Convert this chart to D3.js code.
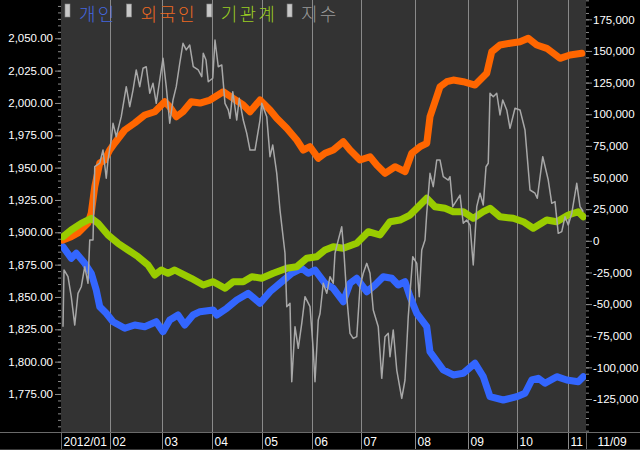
<!DOCTYPE html>
<html><head><meta charset="utf-8">
<script src="https://cdn.jsdelivr.net/npm/d3@7"></script>
<style>body{margin:0;background:#000;} svg{display:block}</style>
</head><body><svg id="c" width="640" height="450"></svg>
<script>
const seriesNames = ["개인", "외국인", "기관계", "지수"];
const monthStarts = [0, 19.6, 40.4, 60.4, 80.4, 100.4, 120, 141.6, 162.8, 182.4, 202.8];
const monthLabels = ["2012/01", "02", "03", "04", "05", "06", "07", "08", "09", "10", "11"];
const lastDateLabel = "11/09";
const leftTicks = [1775, 1800, 1825, 1850, 1875, 1900, 1925, 1950, 1975, 2000, 2025, 2050];
const rightTicks = [-125000, -100000, -75000, -50000, -25000, 0, 25000, 50000, 75000, 100000, 125000, 150000, 175000];

// [trading-day index, net buying] 개인
const individual = [[0.8,-4660],[4.1,-13830],[6.1,-9880],[9.5,-17780],[12.1,-25680],[14.1,-38870],[15.5,-52070],[18.1,-57280],[20.8,-63920],[25.5,-69130],[29.5,-66530],[33.5,-67870],[38.1,-63920],[40.8,-71820],[43.5,-62570],[46.8,-58620],[49.5,-66530],[52.8,-58620],[55.6,-56020],[60.9,-54670],[62.3,-58620],[66.3,-53330],[70.3,-46770],[74.9,-41480],[79.6,-49380],[83.6,-40210],[87.6,-33580],[92.3,-25680],[96.3,-21730],[98.9,-25680],[101.6,-23070],[105.6,-33580],[108.9,-37530],[112.9,-48110],[115.6,-33580],[118.3,-29630],[122.3,-40210],[125.6,-34920],[128.9,-28360],[132.3,-29630],[134.9,-34920],[137.6,-32310],[139.6,-44160],[142.3,-57280],[146.3,-67870],[147.6,-87610],[152.9,-102070],[156.9,-106020],[160.9,-104680],[165.6,-96780],[168.9,-107360],[171.6,-123160],[176.9,-125770],[182.3,-123160],[185.6,-120480],[188.3,-109970],[190.9,-108630],[193.6,-112580],[198.3,-107360],[202.3,-109970],[206.9,-111320],[208.9,-107360]];
// 외국인
const foreign = [[0.8,600],[4.1,3200],[6.8,6160],[10.8,14060],[12.1,21960],[13.5,42740],[15.5,61470],[17.5,63840],[19.5,71740],[21.5,77270],[25.5,87540],[29.5,93070],[33.5,99390],[37.5,102000],[41.5,109900],[43.5,105940],[46.1,98040],[48.8,102000],[52.1,109900],[55.6,108860],[59.6,111230],[64.9,117790],[68.9,112580],[72.9,107280],[75.6,102000],[79.6,111230],[83.6,103330],[86.3,96780],[90.3,88880],[94.3,79630],[96.9,71730],[99.6,74340],[102.9,65180],[105.6,69130],[108.9,71730],[112.9,78290],[115.6,71730],[119.6,63830],[123.6,66440],[126.3,59880],[129.6,53330],[133.6,58540],[137.6,54590],[140.3,69130],[143.6,74340],[146.3,77030],[147.6,98040],[150.3,113840],[151.6,121740],[154.3,125690],[156.9,127030],[160.9,125690],[165.6,123080],[170.3,132330],[172.3,149390],[175.6,154680],[179.6,156030],[183.6,157290],[186.9,159980],[190.3,154680],[194.3,152080],[199.6,144180],[203.6,146780],[208.3,148130]];
// 기관계
const institution = [[0.8,3240],[4.1,8530],[8.1,13830],[12.1,17780],[14.8,13830],[18.8,4580],[22.8,-1980],[26.8,-7270],[30.8,-12560],[34.8,-19120],[37.5,-27020],[40.1,-23070],[42.8,-25680],[45.5,-23070],[48.1,-25680],[52.1,-29630],[56.9,-34920],[60.9,-32310],[65.6,-37530],[68.9,-32310],[72.9,-32310],[76.3,-28360],[80.3,-29630],[84.9,-25680],[90.3,-21730],[94.3,-20460],[98.3,-13830],[102.3,-12560],[105.6,-7270],[108.9,-4660],[112.9,-5930],[118.3,-1980],[122.9,7190],[127.6,4580],[131.6,15090],[135.6,16430],[139.6,20380],[142.9,26940],[146.3,33580],[149.6,26940],[153.6,25680],[156.9,22990],[160.9,22990],[164.9,17780],[168.9,22990],[171.6,25680],[175.6,19040],[180.9,17780],[184.9,15090],[188.9,9880],[194.3,16430],[198.3,15090],[202.9,20380],[206.9,22990],[208.9,19040]];
// 지수 (KOSPI)
const kospi = [[0.8,1827.0],[1.2,1870.9],[2.8,1865.7],[4.1,1850.2],[5.5,1828.3],[6.8,1852.8],[8.1,1857.9],[9.5,1873.4],[10.8,1860.6],[11.5,1894.0],[12.8,1894.0],[13.5,1950.7],[15.5,1953.4],[16.8,1963.6],[18.1,1941.8],[18.8,1955.9],[20.1,1971.4],[20.8,1984.3],[22.1,1973.9],[24.1,1989.4],[26.1,2012.6],[27.5,1997.1],[28.8,2010.0],[30.1,2025.5],[31.5,2012.6],[32.8,2026.8],[34.1,2028.0],[35.5,2007.5],[36.8,2015.2],[38.1,1999.7],[39.5,2017.8],[40.8,2034.5],[42.1,2012.6],[43.5,1984.3],[44.8,2002.3],[46.1,2012.6],[47.5,2030.7],[48.8,2046.1],[50.1,2041.0],[51.5,2044.8],[52.9,2028.0],[54.9,2025.5],[56.3,2020.3],[56.9,2038.4],[58.0,2033.2],[58.9,2016.4],[60.7,2019.1],[61.6,2048.7],[62.9,2028.0],[64.3,2029.4],[65.6,1999.7],[66.9,1994.6],[67.6,1988.1],[68.7,2008.7],[70.3,1986.8],[71.3,2003.6],[72.9,1986.8],[74.3,1976.5],[75.6,1963.6],[77.6,1963.6],[79.6,1986.8],[80.3,1999.7],[82.3,1989.4],[83.6,1958.5],[84.7,1967.5],[86.3,1945.6],[87.6,1917.2],[89.6,1883.8],[90.3,1842.5],[91.6,1845.1],[92.3,1784.5],[93.6,1827.0],[94.9,1810.3],[96.3,1829.6],[97.6,1850.2],[99.6,1842.5],[100.9,1809.0],[101.6,1784.5],[102.9,1832.2],[103.6,1837.0],[104.9,1860.6],[106.3,1852.8],[107.6,1865.7],[108.9,1860.6],[109.6,1883.8],[110.9,1894.0],[112.3,1904.3],[113.2,1883.8],[114.3,1850.2],[115.6,1821.9],[116.9,1818.0],[118.3,1819.3],[119.6,1857.9],[120.9,1868.3],[122.3,1876.0],[123.6,1868.3],[124.9,1839.9],[126.9,1827.0],[128.3,1787.1],[129.6,1819.3],[130.9,1821.9],[131.6,1803.8],[132.9,1824.5],[134.3,1793.5],[136.3,1771.6],[137.6,1785.8],[138.9,1834.7],[140.7,1881.1],[142.3,1876.0],[143.3,1850.2],[144.3,1886.3],[145.6,1894.0],[146.3,1914.7],[147.6,1945.6],[148.9,1935.3],[150.3,1955.9],[151.6,1955.9],[152.9,1943.0],[154.9,1940.4],[155.6,1943.0],[156.7,1919.8],[159.6,1928.8],[160.9,1907.0],[162.3,1909.5],[163.6,1905.6],[164.9,1874.7],[166.3,1919.8],[167.6,1930.2],[168.9,1921.1],[170.0,1950.7],[170.9,1953.4],[171.6,2007.5],[172.9,2004.8],[174.3,2007.5],[175.6,1990.7],[176.7,2002.3],[178.3,1994.6],[179.6,1980.4],[181.6,1995.9],[183.6,1994.6],[185.6,1979.1],[187.6,1932.7],[189.6,1930.2],[190.5,1926.3],[192.7,1958.5],[194.9,1940.4],[196.3,1922.4],[197.6,1923.7],[198.9,1899.2],[200.3,1900.5],[201.6,1912.1],[202.9,1905.6],[204.3,1914.7],[206.3,1937.9],[207.6,1919.8],[208.9,1915.9]];

const W = 640, H = 450;
const L = 61, R = 586, T = 0, B = 432;
const svg = d3.select("#c");

const x = d3.scaleLinear().domain([0, 210]).range([L, R]);
const yL = d3.scaleLinear().domain([1745.6, 2079.6]).range([B, T]);
const yR = d3.scaleLinear().domain([-151070, 190260]).range([B, T]);

svg.append("rect").attr("width", W).attr("height", H).attr("fill", "#000");
svg.append("rect").attr("x", L).attr("y", T).attr("width", R - L).attr("height", B - T).attr("fill", "#333333");

// vertical month grid lines (also separators in bottom strip)
svg.append("g").selectAll("line").data(monthStarts.slice(1)).join("line")
  .attr("x1", d => Math.round(x(d)) + 0.5).attr("x2", d => Math.round(x(d)) + 0.5)
  .attr("y1", T).attr("y2", H)
  .attr("stroke", "#8a8a8a").attr("stroke-width", 1);
[L, R].forEach(px => svg.append("line").attr("x1", px + 0.5).attr("x2", px + 0.5).attr("y1", B).attr("y2", H).attr("stroke", "#6a6a6a"));

// bottom strip separator
svg.append("line").attr("x1", 0).attr("x2", W).attr("y1", B + 0.5).attr("y2", B + 0.5).attr("stroke", "#6a6a6a");
svg.append("line").attr("x1", 0).attr("x2", W).attr("y1", H - 0.5).attr("y2", H - 0.5).attr("stroke", "#3a3a3a");

// month labels
svg.append("g").selectAll("text").data(monthStarts).join("text")
  .attr("x", d => Math.round(x(d)) + 2.5).attr("y", 446)
  .attr("fill", "#fff").attr("font-family", "Liberation Sans, Arial, sans-serif").attr("font-size", 12)
  .text((d, i) => monthLabels[i]);
svg.append("text").attr("x", 612).attr("y", 446).attr("text-anchor", "middle")
  .attr("fill", "#fff").attr("font-family", "Liberation Sans, Arial, sans-serif").attr("font-size", 12)
  .text(lastDateLabel);

// left axis
const fmtL = d3.format(",.2f");
const axL = svg.append("g").attr("transform", `translate(${L},0)`)
  .call(d3.axisLeft(yL).tickValues(leftTicks).tickFormat(fmtL).tickSize(6).tickPadding(2));
const minorL = d3.range(1750, 2080, 5);
const axLm = svg.append("g").attr("transform", `translate(${L},0)`)
  .call(d3.axisLeft(yL).tickValues(minorL).tickFormat("").tickSize(3));
// right axis
const fmtR = d => d3.format(",")(d).replace("\u2212", "-");
const axR = svg.append("g").attr("transform", `translate(${R},0)`)
  .call(d3.axisRight(yR).tickValues(rightTicks).tickFormat(fmtR).tickSize(6).tickPadding(1));
const minorR = d3.range(-150000, 190001, 5000);
const axRm = svg.append("g").attr("transform", `translate(${R},0)`)
  .call(d3.axisRight(yR).tickValues(minorR).tickFormat("").tickSize(3));
[axL, axLm, axR, axRm].forEach(a => {
  a.select(".domain").remove();
  a.selectAll("line").attr("stroke", "#8a8a8a");
  a.selectAll("text").attr("fill", "#fff").attr("font-family", "Liberation Sans, Arial, sans-serif").attr("font-size", 11.5);
});

// clip
svg.append("clipPath").attr("id", "clip").append("rect").attr("x", L).attr("y", T).attr("width", R - L).attr("height", B - T);
const plot = svg.append("g").attr("clip-path", "url(#clip)");

const lineR = d3.line().x(d => x(d[0])).y(d => yR(d[1]));
const lineL = d3.line().x(d => x(d[0])).y(d => yL(d[1]));
const colors = ["#3366ff", "#ff6600", "#99cc00", "#a8a8a8"];
const legendColors = ["#4466dd", "#ee6a22", "#99cc22", "#9a9a9a"];

[individual, foreign, institution].forEach((s, i) => {
  plot.append("path").datum(s).attr("d", lineR).attr("fill", "none").attr("stroke", colors[i])
    .attr("stroke-width", 7).attr("stroke-linejoin", "round").attr("stroke-linecap", "round");
});
plot.append("path").datum(kospi).attr("d", lineL).attr("fill", "none").attr("stroke", colors[3]).attr("stroke-width", 1.5).attr("stroke-linejoin", "round");

// legend
const lg = svg.append("g");
let lx = 65;
seriesNames.forEach((name, i) => {
  lg.append("rect").attr("x", lx).attr("y", 4).attr("width", 5).attr("height", 13)
    .attr("fill", "#c8c8c8").attr("stroke", "#888").attr("stroke-width", 0.6);
  const t = lg.append("text").attr("x", lx + 14).attr("y", 20.5)
    .attr("fill", legendColors[i]).attr("font-family", "Noto Sans CJK KR, sans-serif")
    .attr("font-weight", 300).attr("font-size", 18).attr("letter-spacing", 2.2).text(name);
  lx = lx + 14 + t.node().getComputedTextLength() + 10;
});
</script></body></html>
